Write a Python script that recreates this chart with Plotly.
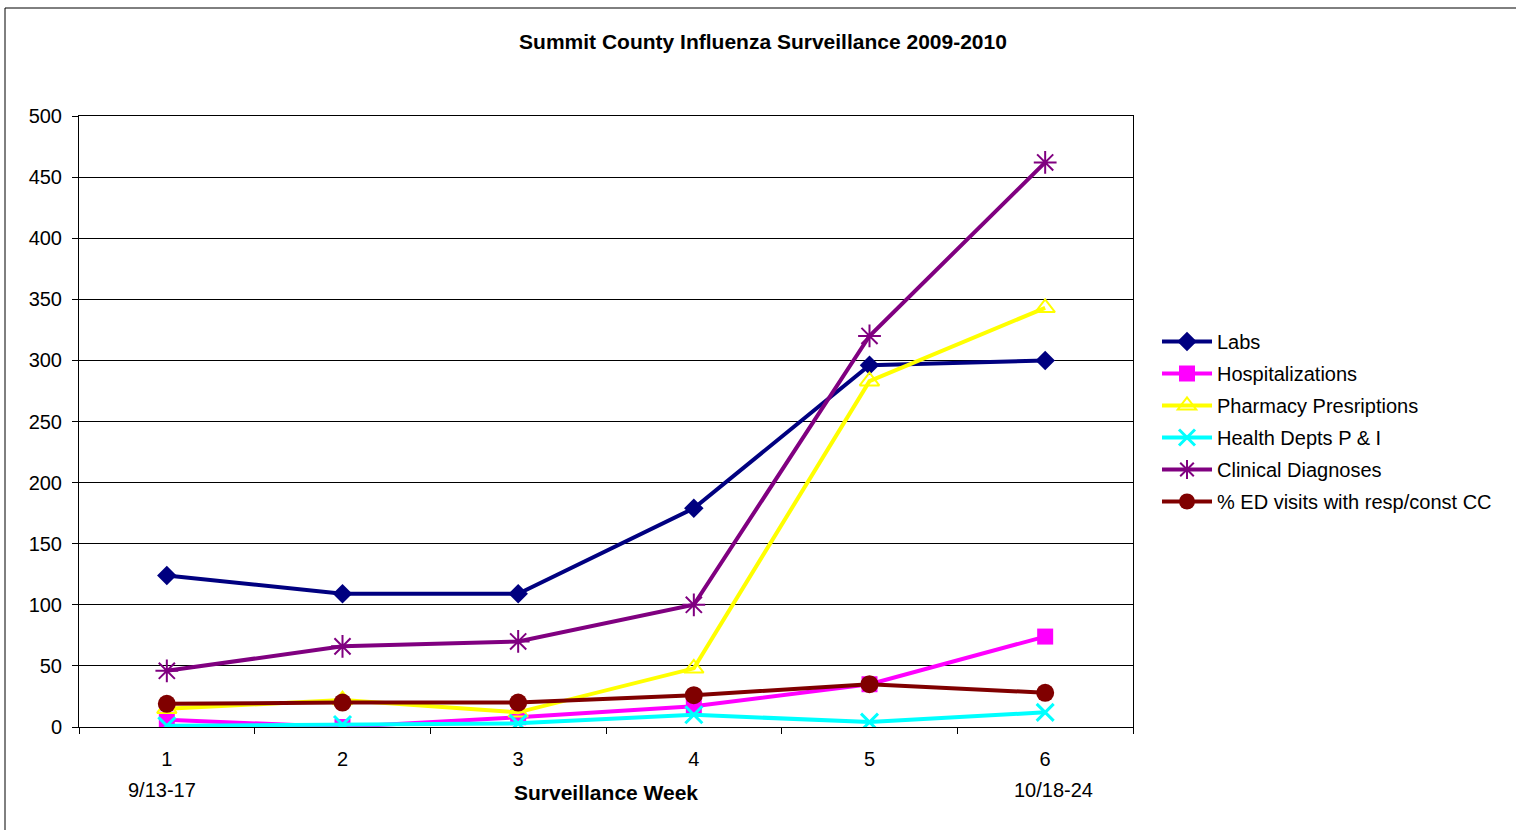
import plotly.graph_objects as go

weeks = [1, 2, 3, 4, 5, 6]
week_labels = ["1", "2", "3", "4", "5", "6"]
labs = [124, 109, 109, 179, 296, 300]
hospitalizations = [6, 0, 8, 17, 35, 74]
pharmacy = [15, 22, 12, 48, 283, 343]
health_depts = [1, 2, 3, 10, 4, 12]
clinical = [46, 66, 70, 100, 320, 462]
ed_visits = [19, 20, 20, 26, 35, 28]
y_ticks = [0, 50, 100, 150, 200, 250, 300, 350, 400, 450, 500]

series = [
    ("Labs", labs, "#000080", "diamond", 15, None),
    ("Hospitalizations", hospitalizations, "#FF00FF", "square", 16, None),
    ("Pharmacy Presriptions", pharmacy, "#FFFF00", "triangle-up-open", 17, 2),
    ("Health Depts P & I", health_depts, "#00FFFF", "x-thin-open", 17, 3),
    ("Clinical Diagnoses", clinical, "#800080", "asterisk-open", 19, 2),
    ("% ED visits with resp/const CC", ed_visits, "#800000", "circle", 18, None),
]

fig = go.Figure()
for i, (name, vals, color, sym, size, lw) in enumerate(series):
    marker = dict(symbol=sym, size=size, color=color)
    if lw is not None:
        marker["line"] = dict(color=color, width=lw)
    else:
        marker["line"] = dict(width=0)
    fig.add_trace(go.Scatter(
        x=weeks, y=vals, name=name, mode="lines+markers", legendgroup=f"g{i}",
        line=dict(color=color, width=4), marker=marker,
    ))

W, H = 1516, 830
L, R, T, B = 79, 1133, 116, 727
pw, ph = R - L, B - T

def px_x(p):
    return (p - L) / pw

def px_y(p):
    return (B - p) / ph

fig.update_layout(
    width=W, height=H,
    margin=dict(l=L, r=W - R, t=T, b=H - B),
    paper_bgcolor="white", plot_bgcolor="white",
    font=dict(family="Liberation Sans, Arial, sans-serif", size=20, color="black"),
    title=dict(text="<b>Summit County Influenza Surveillance 2009-2010</b>",
               x=px_x(763), xref="paper", xanchor="center",
               y=1 - 42 / H, yanchor="middle", font=dict(size=21)),
    showlegend=True,
    legend=dict(x=px_x(1157), y=px_y(322), xanchor="left", yanchor="top",
                font=dict(size=20), bgcolor="rgba(0,0,0,0)",
                tracegroupgap=3, itemwidth=50),
    xaxis=dict(
        range=[0.5, 6.5], tickvals=weeks, ticktext=week_labels,
        ticks="outside", ticklen=0, showgrid=False, zeroline=False,
        showline=True, linecolor="black", linewidth=1, mirror=True,
        ticklabelstandoff=14,
        minor=dict(tickvals=[0.5, 1.5, 2.5, 3.5, 4.5, 5.5, 6.5], ticks="outside",
                   ticklen=6, tickcolor="black", showgrid=False),
    ),
    yaxis=dict(
        range=[0, 500], tickvals=y_ticks, ticks="outside", ticklen=6,
        tickcolor="black", showgrid=True, gridcolor="#000000", gridwidth=1,
        zeroline=False, showline=True, linecolor="black", linewidth=1,
        mirror=True, ticklabelstandoff=6,
    ),
)

fig.add_annotation(x=0.97, y=px_y(790), xref="x", yref="paper", text="9/13-17",
                   showarrow=False, yanchor="middle", font=dict(size=20))
fig.add_annotation(x=6.05, y=px_y(790), xref="x", yref="paper", text="10/18-24",
                   showarrow=False, yanchor="middle", font=dict(size=20))
fig.add_annotation(x=0.5, y=px_y(793), xref="paper", yref="paper",
                   text="<b>Surveillance Week</b>", showarrow=False,
                   yanchor="middle", font=dict(size=21))

fig.add_shape(type="rect", xref="paper", yref="paper",
              x0=px_x(5), x1=px_x(1520), y0=px_y(835), y1=px_y(8),
              line=dict(color="black", width=1), layer="below")

fig.write_html("out.html", config={"displayModeBar": False},
               post_script="document.body.style.margin='0px';document.body.style.overflow='hidden';")
